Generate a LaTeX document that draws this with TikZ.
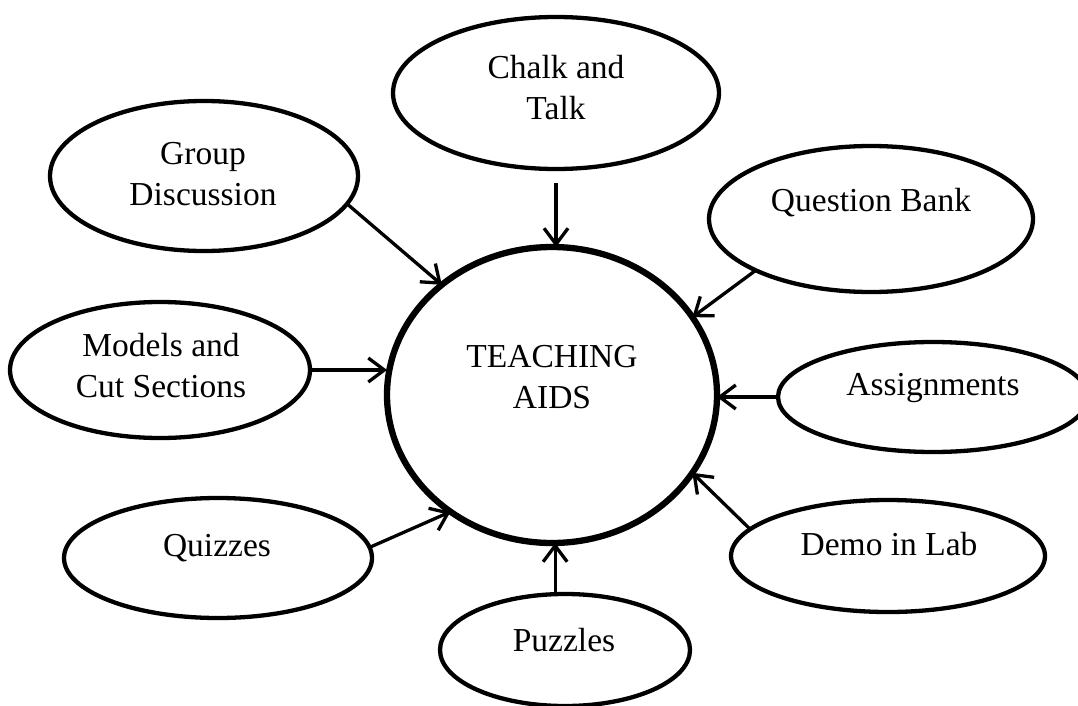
\documentclass[tikz,border=0pt]{standalone}
\usepackage{fontspec}
\setmainfont{Liberation Serif}
\usetikzlibrary{shapes.geometric,arrows.meta}
\begin{document}
\begin{tikzpicture}[x=1pt,y=-1pt,
  bub/.style={draw=black,ellipse,line width=4.3pt,inner sep=0pt,outer sep=0pt},
  hub/.style={draw=black,ellipse,line width=6.3pt,inner sep=0pt,outer sep=0pt},
  txt/.style={align=center,inner sep=0pt,font=\fontsize{33.5}{41}\selectfont},
  arr/.style={line width=3.3pt,-{Straight Barb[length=16pt,width=24pt,line width=3.3pt]}}]
\useasboundingbox (0,0) rectangle (1078,706);
\fill[white] (0,0) rectangle (1078,706);
% central node
\node[hub,minimum width=330pt,minimum height=296pt] (ta) at (552,395) {};
\node[txt] (tat) at (552,377) {TEACHING\\AIDS};
% satellites
\node[bub,minimum width=326pt,minimum height=152pt] (ch) at (556,93) {};
\node[txt] (cht) at (556,88) {Chalk and\\Talk};
\node[bub,minimum width=308pt,minimum height=150pt] (gd) at (204,176) {};
\node[txt] (gdt) at (203,174) {Group\\Discussion};
\node[bub,minimum width=324pt,minimum height=146pt] (qb) at (871,219) {};
\node[txt] (qbt) at (871,203) {Question Bank};
\node[bub,minimum width=300pt,minimum height=136pt] (mc) at (160,370) {};
\node[txt] (mct) at (161,366) {Models and\\Cut Sections};
\node[bub,minimum width=310pt,minimum height=110pt] (as) at (933,397) {};
\node[txt] (ast) at (933,388) {Assignments};
\node[bub,minimum width=308pt,minimum height=120pt] (qz) at (218,558) {};
\node[txt] (qzt) at (217,548) {Quizzes};
\node[bub,minimum width=314pt,minimum height=112pt] (dl) at (888,556) {};
\node[txt] (dlt) at (889,544) {Demo in Lab};
\node[bub,minimum width=250pt,minimum height=112pt] (pz) at (565,650) {};
\node[txt] (pzt) at (564,640) {Puzzles};
% connectors
\draw[arr] (gd.-11) -- (ta.135);
\draw[arr,shorten <=14pt] (ch.south) -- (ch.south |- ta.north);
\draw[arr] (qb.204) -- (ta.29);
\draw[arr] (mc.east) -- (mc.east -| ta.west);
\draw[arr] (as.west) -- (as.west -| ta.east);
\draw[arr] (qz.4) -- (ta.229);
\draw[arr] (dl.169) -- (ta.-29);
\draw[arr] (pz.100) -- (pz.100 |- ta.south);
\end{tikzpicture}
\end{document}
